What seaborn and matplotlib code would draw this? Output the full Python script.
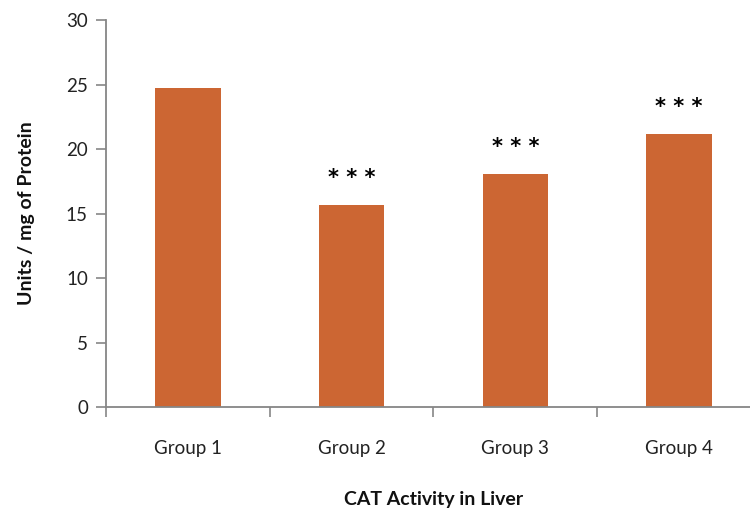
import matplotlib
matplotlib.use("Agg")
import matplotlib.pyplot as plt
import seaborn as sns
import pandas as pd

groups = ["Group 1", "Group 2", "Group 3", "Group 4"]
values = [24.7, 15.65, 18.05, 21.15]
stars = ["", "* * *", "* * *", "* * *"]
yticks = [0, 5, 10, 15, 20, 25, 30]

sns.set_style("white")
plt.rcParams['font.family'] = ['Lato', 'DejaVu Sans']

df = pd.DataFrame({"group": groups, "value": values})

fig = plt.figure(figsize=(7.5, 5.08), dpi=100)
ax = fig.add_axes([0.1413, 0.1988, 0.8733, 0.7618])

sns.barplot(data=df, x="group", y="value", color="#CC6633", saturation=1,
            width=0.40, ax=ax, edgecolor="none")

for i, (v, s) in enumerate(zip(values, stars)):
    if s:
        ax.text(i, v + 1.35, s, ha="center", va="bottom", fontsize=15,
                fontweight="bold", color="black", family="DejaVu Sans")

ax.set_xlim(-0.5, 3.5)
ax.set_ylim(0, 30)
ax.set_yticks(yticks)
ax.set_yticklabels([str(t) for t in yticks], fontsize=13.5, color="#222222")

# boundary ticks (major) and centered labels (minor)
ax.set_xticks([-0.5, 0.5, 1.5, 2.5, 3.5])
ax.set_xticklabels([])
ax.set_xticks(range(len(groups)), minor=True)
ax.set_xticklabels(groups, minor=True, fontsize=13.5, color="#222222")
ax.tick_params(axis="x", which="major", length=7, width=1.2, color="#868686", direction="out")
ax.tick_params(axis="x", which="minor", length=0, pad=24)
ax.tick_params(axis="y", length=7, width=1.2, color="#868686", direction="out", pad=6)
ax.yaxis.set_ticks_position("left")
ax.xaxis.set_ticks_position("bottom")

for side in ["top", "right"]:
    ax.spines[side].set_visible(False)
for side in ["left", "bottom"]:
    ax.spines[side].set_color("#868686")
    ax.spines[side].set_linewidth(1.3)

ax.set_xlabel("CAT Activity in Liver", fontsize=14, fontweight="bold",
              color="#111111", labelpad=24)
ax.set_ylabel("Units / mg of Protein", fontsize=14, fontweight="bold",
              color="#111111", labelpad=22)

fig.savefig("out.png", dpi=100)
